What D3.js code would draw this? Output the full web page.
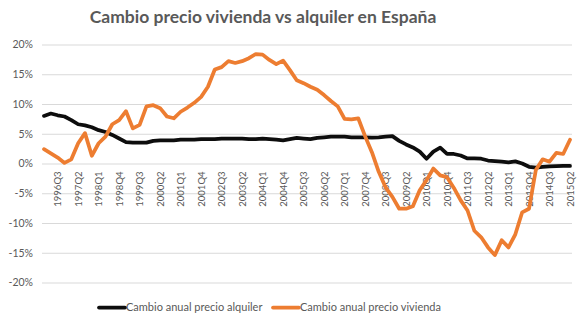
<!DOCTYPE html>
<html>
<head>
<meta charset="utf-8">
<script src="https://cdn.jsdelivr.net/npm/d3@7/dist/d3.min.js"></script>
<style>
  body { margin: 0; background: #fff; }
  svg text { font-family: Lato, "Open Sans", sans-serif; fill: #595959; }
</style>
</head>
<body>
<div id="chart"></div>
<script>
// Quarters 1996Q1 .. 2015Q2
const startYear = 1996;
const quarters = [];
for (let k = 0; k < 78; k++) {
    quarters.push(`${startYear + Math.floor(k / 4)}Q${(k % 4) + 1}`);
}

// Axis labels shown every third quarter
const xTickLabels = [
    '1996Q3', '1997Q2', '1998Q1', '1998Q4', '1999Q3', '2000Q2', '2001Q1', '2001Q4',
    '2002Q3', '2003Q2', '2004Q1', '2004Q4', '2005Q3', '2006Q2', '2007Q1', '2007Q4',
    '2008Q3', '2009Q2', '2010Q1', '2010Q4', '2011Q3', '2012Q2', '2013Q1', '2013Q4',
    '2014Q3', '2015Q2'
];
const yTicks = [-20, -15, -10, -5, 0, 5, 10, 15, 20];

// Annual change (%) in rent prices
const alquiler = [
    8.0, 8.4, 8.1, 7.9, 7.3, 6.6, 6.4, 6.1, 5.6, 5.3,
    4.8, 4.2, 3.6, 3.5, 3.5, 3.5, 3.8, 3.9, 3.9, 3.9,
    4.0, 4.0, 4.0, 4.1, 4.1, 4.1, 4.2, 4.2, 4.2, 4.2,
    4.1, 4.1, 4.2, 4.1, 4.0, 3.9, 4.1, 4.3, 4.2, 4.1,
    4.3, 4.4, 4.5, 4.5, 4.5, 4.4, 4.4, 4.4, 4.35, 4.4,
    4.5, 4.6, 3.8, 3.2, 2.7, 2.0, 0.8, 2.0, 2.65, 1.6,
    1.6, 1.35, 0.85, 0.85, 0.8, 0.5, 0.4, 0.3, 0.2, 0.35,
    0.0, -0.55, -0.7, -0.55, -0.5, -0.45, -0.4, -0.4
];

// Annual change (%) in house prices
const vivienda = [
    2.4, 1.7, 1.0, 0.1, 0.7, 3.4, 5.1, 1.3, 3.4, 4.5,
    6.6, 7.3, 8.8, 5.9, 6.5, 9.6, 9.8, 9.3, 7.9, 7.6,
    8.7, 9.4, 10.2, 11.2, 12.9, 15.8, 16.2, 17.2, 16.9, 17.2,
    17.7, 18.4, 18.3, 17.4, 16.7, 17.3, 15.7, 14.0, 13.5, 12.9,
    12.4, 11.5, 10.5, 9.6, 7.5, 7.4, 7.6, 4.6, 1.9, -1.4,
    -4.0, -5.6, -7.6, -7.6, -7.2, -4.5, -2.8, -0.85, -2.0, -2.3,
    -4.1, -6.2, -7.9, -11.3, -12.4, -14.1, -15.4, -12.9, -14.1, -11.9,
    -8.2, -7.6, -1.1, 0.7, 0.3, 1.8, 1.6, 4.0
];

const series = [
    { name: 'Cambio anual precio alquiler', color: '#0d0d0d', values: alquiler },
    { name: 'Cambio anual precio vivienda', color: '#ed7d31', values: vivienda }
];

const width = 582, height = 321;
const plot = { left: 42, right: 572, top: 44.5, bottom: 282.5 };

const svg = d3.select('#chart').append('svg')
    .attr('width', width)
    .attr('height', height);

const x = d3.scalePoint()
    .domain(quarters)
    .range([44, 570]);

const y = d3.scaleLinear()
    .domain([-20, 20])
    .range([plot.bottom, plot.top]);

// Title
svg.append('text')
    .attr('x', 263)
    .attr('y', 23)
    .attr('text-anchor', 'middle')
    .style('font-size', '17.5px')
    .style('font-weight', 'bold')
    .text('Cambio precio vivienda vs alquiler en España');

// Gridlines + y labels
const yAxis = svg.append('g')
    .attr('transform', `translate(${plot.left},0)`)
    .call(d3.axisLeft(y)
        .tickValues(yTicks)
        .tickSize(-(plot.right - plot.left))
        .tickPadding(9)
        .tickFormat(d => d + '%'));
yAxis.select('.domain').remove();
yAxis.selectAll('line').attr('stroke', '#d9d9d9');
yAxis.selectAll('text').style('font-size', '10.5px');

// Category axis sits on the 0% line
const xAxis = svg.append('g')
    .attr('transform', `translate(0,${y(0)})`)
    .call(d3.axisBottom(x).tickValues(xTickLabels).tickSize(0));
xAxis.select('.domain').remove();
xAxis.selectAll('text')
    .style('font-size', '9.5px')
    .attr('text-anchor', 'end')
    .attr('transform', 'rotate(-90)')
    .attr('x', -8)
    .attr('y', 0)
    .attr('dy', '0.35em');

// Lines
const line = d3.line()
    .x((d, i) => x(quarters[i]))
    .y(d => y(d));

series.forEach(s => {
    svg.append('path')
        .datum(s.values)
        .attr('fill', 'none')
        .attr('stroke', s.color)
        .attr('stroke-width', 3.75)
        .attr('stroke-linejoin', 'round')
        .attr('stroke-linecap', 'round')
        .attr('d', line);
});

// Legend
const legendX = [99, 273];
series.forEach((s, i) => {
    const g = svg.append('g').attr('transform', `translate(${legendX[i]},307.5)`);
    g.append('line')
        .attr('x1', 0).attr('x2', 26)
        .attr('y1', 0).attr('y2', 0)
        .attr('stroke', s.color)
        .attr('stroke-width', 3.75)
        .attr('stroke-linecap', 'round');
    g.append('text')
        .attr('x', 27)
        .attr('y', 3.8)
        .style('font-size', '11px')
        .text(s.name);
});
</script>
</body>
</html>
